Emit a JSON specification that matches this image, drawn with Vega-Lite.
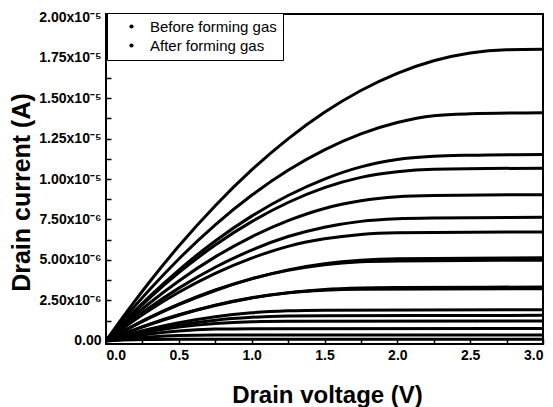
{
  "$schema": "https://vega.github.io/schema/vega-lite/v6.json",
  "autosize": "none",
  "width": 437,
  "height": 330,
  "padding": {"left": 106, "top": 14, "right": 10, "bottom": 63},
  "background": "white",
  "data": {"values": [
    {"s":"Before forming gas","c":"A","V":0,"I":0},{"s":"Before forming gas","c":"A","V":0.1,"I":1.262e-6},{"s":"Before forming gas","c":"A","V":0.2,"I":2.480e-6},{"s":"Before forming gas","c":"A","V":0.3,"I":3.651e-6},{"s":"Before forming gas","c":"A","V":0.5,"I":5.855e-6},{"s":"Before forming gas","c":"A","V":0.75,"I":8.351e-6},{"s":"Before forming gas","c":"A","V":1.0,"I":1.056e-5},{"s":"Before forming gas","c":"A","V":1.25,"I":1.248e-5},{"s":"Before forming gas","c":"A","V":1.5,"I":1.412e-5},{"s":"Before forming gas","c":"A","V":1.75,"I":1.547e-5},{"s":"Before forming gas","c":"A","V":2.0,"I":1.653e-5},{"s":"Before forming gas","c":"A","V":2.25,"I":1.731e-5},{"s":"Before forming gas","c":"A","V":2.5,"I":1.779e-5},{"s":"Before forming gas","c":"A","V":2.75,"I":1.799e-5},{"s":"Before forming gas","c":"A","V":3.0,"I":1.802e-5},
    {"s":"After forming gas","c":"B","V":0,"I":0},{"s":"After forming gas","c":"B","V":0.1,"I":1.102e-6},{"s":"After forming gas","c":"B","V":0.2,"I":2.158e-6},{"s":"After forming gas","c":"B","V":0.3,"I":3.170e-6},{"s":"After forming gas","c":"B","V":0.5,"I":5.058e-6},{"s":"After forming gas","c":"B","V":0.75,"I":7.166e-6},{"s":"After forming gas","c":"B","V":1.0,"I":8.992e-6},{"s":"After forming gas","c":"B","V":1.25,"I":1.054e-5},{"s":"After forming gas","c":"B","V":1.5,"I":1.180e-5},{"s":"After forming gas","c":"B","V":1.75,"I":1.279e-5},{"s":"After forming gas","c":"B","V":2.0,"I":1.349e-5},{"s":"After forming gas","c":"B","V":2.25,"I":1.391e-5},{"s":"After forming gas","c":"B","V":2.5,"I":1.403e-5},{"s":"After forming gas","c":"B","V":3.0,"I":1.410e-5},
    {"s":"Before forming gas","c":"C","V":0,"I":0},{"s":"Before forming gas","c":"C","V":0.1,"I":9.58e-7},{"s":"Before forming gas","c":"C","V":0.2,"I":1.874e-6},{"s":"Before forming gas","c":"C","V":0.3,"I":2.749e-6},{"s":"Before forming gas","c":"C","V":0.5,"I":4.373e-6},{"s":"Before forming gas","c":"C","V":0.75,"I":6.169e-6},{"s":"Before forming gas","c":"C","V":1.0,"I":7.705e-6},{"s":"Before forming gas","c":"C","V":1.25,"I":8.980e-6},{"s":"Before forming gas","c":"C","V":1.5,"I":9.996e-6},{"s":"Before forming gas","c":"C","V":1.75,"I":1.075e-5},{"s":"Before forming gas","c":"C","V":2.0,"I":1.120e-5},{"s":"Before forming gas","c":"C","V":2.25,"I":1.140e-5},{"s":"Before forming gas","c":"C","V":2.5,"I":1.147e-5},{"s":"Before forming gas","c":"C","V":3.0,"I":1.152e-5},
    {"s":"After forming gas","c":"D","V":0,"I":0},{"s":"After forming gas","c":"D","V":0.1,"I":9.26e-7},{"s":"After forming gas","c":"D","V":0.2,"I":1.809e-6},{"s":"After forming gas","c":"D","V":0.3,"I":2.651e-6},{"s":"After forming gas","c":"D","V":0.5,"I":4.208e-6},{"s":"After forming gas","c":"D","V":0.75,"I":5.917e-6},{"s":"After forming gas","c":"D","V":1.0,"I":7.363e-6},{"s":"After forming gas","c":"D","V":1.25,"I":8.547e-6},{"s":"After forming gas","c":"D","V":1.5,"I":9.467e-6},{"s":"After forming gas","c":"D","V":1.75,"I":1.010e-5},{"s":"After forming gas","c":"D","V":2.0,"I":1.045e-5},{"s":"After forming gas","c":"D","V":2.25,"I":1.060e-5},{"s":"After forming gas","c":"D","V":3.0,"I":1.067e-5},
    {"s":"Before forming gas","c":"E","V":0,"I":0},{"s":"Before forming gas","c":"E","V":0.1,"I":8.18e-7},{"s":"Before forming gas","c":"E","V":0.2,"I":1.596e-6},{"s":"Before forming gas","c":"E","V":0.3,"I":2.337e-6},{"s":"Before forming gas","c":"E","V":0.5,"I":3.699e-6},{"s":"Before forming gas","c":"E","V":0.75,"I":5.184e-6},{"s":"Before forming gas","c":"E","V":1.0,"I":6.425e-6},{"s":"Before forming gas","c":"E","V":1.25,"I":7.423e-6},{"s":"Before forming gas","c":"E","V":1.5,"I":8.177e-6},{"s":"Before forming gas","c":"E","V":1.75,"I":8.650e-6},{"s":"Before forming gas","c":"E","V":2.0,"I":8.900e-6},{"s":"Before forming gas","c":"E","V":2.25,"I":8.98e-6},{"s":"Before forming gas","c":"E","V":3.0,"I":9.03e-6},
    {"s":"After forming gas","c":"F","V":0,"I":0},{"s":"After forming gas","c":"F","V":0.1,"I":7.23e-7},{"s":"After forming gas","c":"F","V":0.2,"I":1.410e-6},{"s":"After forming gas","c":"F","V":0.3,"I":2.062e-6},{"s":"After forming gas","c":"F","V":0.5,"I":3.255e-6},{"s":"After forming gas","c":"F","V":0.75,"I":4.543e-6},{"s":"After forming gas","c":"F","V":1.0,"I":5.606e-6},{"s":"After forming gas","c":"F","V":1.25,"I":6.442e-6},{"s":"After forming gas","c":"F","V":1.5,"I":7.020e-6},{"s":"After forming gas","c":"F","V":1.75,"I":7.380e-6},{"s":"After forming gas","c":"F","V":2.0,"I":7.540e-6},{"s":"After forming gas","c":"F","V":2.25,"I":7.59e-6},{"s":"After forming gas","c":"F","V":3.0,"I":7.63e-6},
    {"s":"Before forming gas","c":"G","V":0,"I":0},{"s":"Before forming gas","c":"G","V":0.1,"I":6.70e-7},{"s":"Before forming gas","c":"G","V":0.2,"I":1.304e-6},{"s":"Before forming gas","c":"G","V":0.3,"I":1.903e-6},{"s":"Before forming gas","c":"G","V":0.5,"I":2.996e-6},{"s":"Before forming gas","c":"G","V":0.75,"I":4.163e-6},{"s":"Before forming gas","c":"G","V":1.0,"I":5.110e-6},{"s":"Before forming gas","c":"G","V":1.25,"I":5.837e-6},{"s":"Before forming gas","c":"G","V":1.5,"I":6.300e-6},{"s":"Before forming gas","c":"G","V":1.75,"I":6.570e-6},{"s":"Before forming gas","c":"G","V":2.0,"I":6.67e-6},{"s":"Before forming gas","c":"G","V":3.0,"I":6.73e-6},
    {"s":"Before forming gas","c":"H","V":0,"I":0},{"s":"Before forming gas","c":"H","V":0.1,"I":4.97e-7},{"s":"Before forming gas","c":"H","V":0.2,"I":9.69e-7},{"s":"Before forming gas","c":"H","V":0.3,"I":1.415e-6},{"s":"Before forming gas","c":"H","V":0.5,"I":2.231e-6},{"s":"Before forming gas","c":"H","V":0.75,"I":3.108e-6},{"s":"Before forming gas","c":"H","V":1.0,"I":3.825e-6},{"s":"Before forming gas","c":"H","V":1.25,"I":4.383e-6},{"s":"Before forming gas","c":"H","V":1.5,"I":4.760e-6},{"s":"Before forming gas","c":"H","V":1.75,"I":4.980e-6},{"s":"Before forming gas","c":"H","V":2.0,"I":5.07e-6},{"s":"Before forming gas","c":"H","V":3.0,"I":5.13e-6},
    {"s":"After forming gas","c":"I","V":0,"I":0},{"s":"After forming gas","c":"I","V":0.1,"I":5.07e-7},{"s":"After forming gas","c":"I","V":0.2,"I":9.87e-7},{"s":"After forming gas","c":"I","V":0.3,"I":1.440e-6},{"s":"After forming gas","c":"I","V":0.5,"I":2.262e-6},{"s":"After forming gas","c":"I","V":0.75,"I":3.137e-6},{"s":"After forming gas","c":"I","V":1.0,"I":3.839e-6},{"s":"After forming gas","c":"I","V":1.25,"I":4.350e-6},{"s":"After forming gas","c":"I","V":1.5,"I":4.700e-6},{"s":"After forming gas","c":"I","V":1.75,"I":4.880e-6},{"s":"After forming gas","c":"I","V":2.0,"I":4.93e-6},{"s":"After forming gas","c":"I","V":3.0,"I":4.98e-6},
    {"s":"Before forming gas","c":"J","V":0,"I":0},{"s":"Before forming gas","c":"J","V":0.1,"I":3.57e-7},{"s":"Before forming gas","c":"J","V":0.2,"I":6.93e-7},{"s":"Before forming gas","c":"J","V":0.3,"I":1.008e-6},{"s":"Before forming gas","c":"J","V":0.5,"I":1.579e-6},{"s":"Before forming gas","c":"J","V":0.75,"I":2.177e-6},{"s":"Before forming gas","c":"J","V":1.0,"I":2.648e-6},{"s":"Before forming gas","c":"J","V":1.25,"I":2.970e-6},{"s":"Before forming gas","c":"J","V":1.5,"I":3.170e-6},{"s":"Before forming gas","c":"J","V":1.75,"I":3.260e-6},{"s":"Before forming gas","c":"J","V":2.0,"I":3.29e-6},{"s":"Before forming gas","c":"J","V":3.0,"I":3.32e-6},
    {"s":"After forming gas","c":"K","V":0,"I":0},{"s":"After forming gas","c":"K","V":0.1,"I":3.65e-7},{"s":"After forming gas","c":"K","V":0.2,"I":7.09e-7},{"s":"After forming gas","c":"K","V":0.3,"I":1.030e-6},{"s":"After forming gas","c":"K","V":0.5,"I":1.606e-6},{"s":"After forming gas","c":"K","V":0.75,"I":2.201e-6},{"s":"After forming gas","c":"K","V":1.0,"I":2.657e-6},{"s":"After forming gas","c":"K","V":1.25,"I":2.960e-6},{"s":"After forming gas","c":"K","V":1.5,"I":3.120e-6},{"s":"After forming gas","c":"K","V":1.75,"I":3.18e-6},{"s":"After forming gas","c":"K","V":3.0,"I":3.22e-6},
    {"s":"Before forming gas","c":"L","V":0,"I":0},{"s":"Before forming gas","c":"L","V":0.1,"I":2.62e-7},{"s":"Before forming gas","c":"L","V":0.2,"I":5.04e-7},{"s":"Before forming gas","c":"L","V":0.3,"I":7.27e-7},{"s":"Before forming gas","c":"L","V":0.5,"I":1.115e-6},{"s":"Before forming gas","c":"L","V":0.75,"I":1.490e-6},{"s":"Before forming gas","c":"L","V":1.0,"I":1.730e-6},{"s":"Before forming gas","c":"L","V":1.25,"I":1.850e-6},{"s":"Before forming gas","c":"L","V":1.5,"I":1.89e-6},{"s":"Before forming gas","c":"L","V":3.0,"I":1.92e-6},
    {"s":"After forming gas","c":"M","V":0,"I":0},{"s":"After forming gas","c":"M","V":0.1,"I":2.29e-7},{"s":"After forming gas","c":"M","V":0.2,"I":4.40e-7},{"s":"After forming gas","c":"M","V":0.3,"I":6.33e-7},{"s":"After forming gas","c":"M","V":0.5,"I":9.63e-7},{"s":"After forming gas","c":"M","V":0.75,"I":1.273e-6},{"s":"After forming gas","c":"M","V":1.0,"I":1.450e-6},{"s":"After forming gas","c":"M","V":1.25,"I":1.530e-6},{"s":"After forming gas","c":"M","V":1.5,"I":1.55e-6},{"s":"After forming gas","c":"M","V":3.0,"I":1.57e-6},
    {"s":"Before forming gas","c":"N","V":0,"I":0},{"s":"Before forming gas","c":"N","V":0.1,"I":2.08e-7},{"s":"Before forming gas","c":"N","V":0.2,"I":3.97e-7},{"s":"Before forming gas","c":"N","V":0.3,"I":5.65e-7},{"s":"Before forming gas","c":"N","V":0.5,"I":8.43e-7},{"s":"Before forming gas","c":"N","V":0.75,"I":1.070e-6},{"s":"Before forming gas","c":"N","V":1.0,"I":1.175e-6},{"s":"Before forming gas","c":"N","V":1.25,"I":1.2e-6},{"s":"Before forming gas","c":"N","V":3.0,"I":1.22e-6},
    {"s":"After forming gas","c":"O","V":0,"I":0},{"s":"After forming gas","c":"O","V":0.1,"I":1.57e-7},{"s":"After forming gas","c":"O","V":0.2,"I":2.96e-7},{"s":"After forming gas","c":"O","V":0.3,"I":4.17e-7},{"s":"After forming gas","c":"O","V":0.5,"I":6.02e-7},{"s":"After forming gas","c":"O","V":0.75,"I":7.2e-7},{"s":"After forming gas","c":"O","V":1.0,"I":7.5e-7},{"s":"After forming gas","c":"O","V":3.0,"I":7.6e-7},
    {"s":"Before forming gas","c":"P","V":0,"I":0},{"s":"Before forming gas","c":"P","V":0.1,"I":9.3e-8},{"s":"Before forming gas","c":"P","V":0.2,"I":1.71e-7},{"s":"Before forming gas","c":"P","V":0.3,"I":2.36e-7},{"s":"Before forming gas","c":"P","V":0.5,"I":3.21e-7},{"s":"Before forming gas","c":"P","V":0.75,"I":3.5e-7},{"s":"Before forming gas","c":"P","V":3.0,"I":3.55e-7},
    {"s":"After forming gas","c":"Q","V":0,"I":0},{"s":"After forming gas","c":"Q","V":0.1,"I":3.6e-8},{"s":"After forming gas","c":"Q","V":0.2,"I":6.4e-8},{"s":"After forming gas","c":"Q","V":0.3,"I":8.4e-8},{"s":"After forming gas","c":"Q","V":0.5,"I":1.0e-7},{"s":"After forming gas","c":"Q","V":3.0,"I":1.0e-7}
  ]},
  "mark": {"type": "line", "interpolate": "monotone", "strokeWidth": 3, "clip": true},
  "encoding": {
    "x": {
      "field": "V", "type": "quantitative",
      "scale": {"domain": [0, 3], "nice": false, "zero": false},
      "axis": {
        "title": "Drain voltage (V)",
        "values": [0, 0.25, 0.5, 0.75, 1, 1.25, 1.5, 1.75, 2, 2.25, 2.5, 2.75, 3],
        "labelExpr": "abs(datum.value*2 - round(datum.value*2)) > 0.01 ? '' : format(datum.value, '.1f')",
        "labelPadding": 9,
        "titleX": 221, "titleY": 58, "titleBaseline": "alphabetic", "titleAlign": "center",
        "titleFontSize": 24
      }
    },
    "y": {
      "field": "I", "type": "quantitative",
      "scale": {"domain": [-2e-7, 2.02e-5], "nice": false, "zero": false},
      "axis": {
        "title": "Drain current (A)",
        "values": [0, 1.25e-6, 2.5e-6, 3.75e-6, 5e-6, 6.25e-6, 7.5e-6, 8.75e-6, 1e-5, 1.125e-5, 1.25e-5, 1.375e-5, 1.5e-5, 1.625e-5, 1.75e-5, 1.875e-5, 2e-5],
        "labelExpr": "abs(datum.value/2.5e-6 - round(datum.value/2.5e-6)) > 0.01 ? '' : (datum.value == 0 ? '0.00' : (datum.value >= 9.9e-6 ? format(datum.value*1e5, '.2f') + 'x10⁻⁵' : format(datum.value*1e6, '.2f') + 'x10⁻⁶'))",
        "labelPadding": 10,
        "titleX": -85, "titleY": 178, "titleBaseline": "middle", "titleAlign": "center", "titleAngle": 270,
        "titleFontSize": 25
      }
    },
    "color": {
      "field": "s", "type": "nominal",
      "scale": {"domain": ["Before forming gas", "After forming gas"], "range": ["black", "black"]},
      "legend": {
        "title": null,
        "orient": "none", "legendX": 1, "legendY": -1,
        "symbolType": "circle", "symbolSize": 18, "symbolFillColor": "black", "symbolStrokeColor": "black", "symbolStrokeWidth": 0,
        "symbolOffset": 11, "labelOffset": 11,
        "labelFont": "Liberation Sans", "labelFontSize": 15, "labelColor": "black",
        "padding": 6, "rowPadding": 3,
        "strokeColor": "black", "fillColor": "white"
      }
    },
    "detail": {"field": "c", "type": "nominal"}
  },
  "config": {
    "view": {"stroke": "black", "strokeWidth": 2},
    "axis": {
      "domain": false, "grid": false,
      "tickColor": "black", "tickWidth": 1.5, "tickSize": -5,
      "labelFont": "Liberation Sans", "labelFontWeight": "bold", "labelFontSize": 14, "labelColor": "black",
      "titleFont": "Liberation Sans", "titleFontWeight": "bold", "titleColor": "black"
    }
  }
}
